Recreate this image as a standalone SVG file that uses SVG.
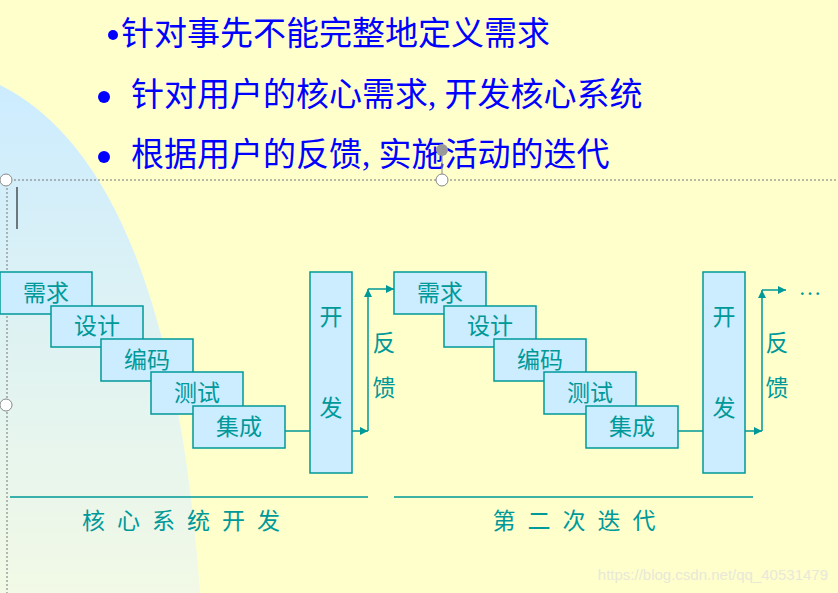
<svg xmlns="http://www.w3.org/2000/svg" width="838" height="593" viewBox="0 0 838 593">
<style>
.t{font-family:"Liberation Serif","Noto Sans CJK SC",serif;fill:#0000FF;font-size:33px}
.b{fill:#CCECFF;stroke:#009999;stroke-width:1.5}
.l{font-family:"Liberation Serif","Noto Sans CJK SC",serif;fill:#009999;font-size:23px;text-anchor:middle}
.c{stroke:#009999;stroke-width:1.5;fill:none}
.h{fill:#fff;stroke:#888;stroke-width:1}
</style>
<defs>
<linearGradient id="g" x1="0" y1="0" x2="0" y2="1"><stop offset="0" stop-color="#CCECFF"/><stop offset="1" stop-color="#F2F9E6"/></linearGradient>
<marker id="a" viewBox="0 0 10 10" refX="10" refY="5" markerWidth="8" markerHeight="8" markerUnits="userSpaceOnUse" orient="auto"><path d="M0,0L10,5L0,10z" fill="#009999"/></marker>
</defs>
<rect width="838" height="593" fill="#FFFFCC"/>
<path d="M0,85 Q170,170 200,593 L0,593z" fill="url(#g)"/>
<g id="title">
<circle cx="113" cy="35" r="5" fill="#0000FF"/>
<text class="t" x="121" y="45">针对事先不能完整地定义需求</text>
<circle cx="104" cy="97" r="6" fill="#0000FF"/>
<text class="t" x="131" y="106">针对用户的核心需求, 开发核心系统</text>
<circle cx="104" cy="157" r="6" fill="#0000FF"/>
<text class="t" x="131" y="166">根据用户的反馈, 实施活动的迭代</text>
</g>
<g id="sel">
<line x1="6" y1="180" x2="838" y2="180" stroke="#777" stroke-dasharray="2,2"/>
<line x1="7" y1="180" x2="7" y2="593" stroke="#777" stroke-dasharray="2,2"/>
<line x1="442" y1="150" x2="442" y2="180" stroke="#888"/>
<circle cx="442" cy="150" r="6" fill="#999"/>
<circle class="h" cx="6" cy="180" r="6"/><circle class="h" cx="6" cy="405" r="6"/><circle class="h" cx="442" cy="180" r="6"/>
<line x1="17" y1="187" x2="17" y2="229" stroke="#000"/>
</g>
<g id="connectors">
<path class="c" d="M285,431H310"/><path class="c" d="M352,431H368" marker-end="url(#a)"/>
<path class="c" d="M368,431V289" marker-end="url(#a)"/><path class="c" d="M368,289H394" marker-end="url(#a)"/>
<path class="c" d="M678,431H703"/><path class="c" d="M745,431H762" marker-end="url(#a)"/>
<path class="c" d="M762,431V290" marker-end="url(#a)"/><path class="c" d="M762,290H786" marker-end="url(#a)"/>
<path class="c" d="M10,497H368M394,497H753"/>
</g>
<g id="g1">
<g id="n1"><rect class="b" x="0" y="272" width="92" height="42"/><text class="l" x="46" y="301">需求</text></g>
<g id="n2"><rect class="b" x="51" y="306" width="92" height="41"/><text class="l" x="97" y="334">设计</text></g>
<g id="n3"><rect class="b" x="101" y="339" width="92" height="42"/><text class="l" x="147" y="368">编码</text></g>
<g id="n4"><rect class="b" x="151" y="372" width="92" height="42"/><text class="l" x="197" y="401">测试</text></g>
<g id="n5"><rect class="b" x="193" y="406" width="92" height="42"/><text class="l" x="239" y="435">集成</text></g>
<g id="n6"><rect class="b" x="310" y="272" width="42" height="201"/><text class="l" x="331" y="325">开</text><text class="l" x="331" y="416">发</text></g>
<text class="l" x="384" y="351">反</text><text class="l" x="384" y="396">馈</text>
<text class="l" x="187" y="529" font-size="25" letter-spacing="12">核心系统开发</text>
</g>
<g id="g2">
<g id="m1"><rect class="b" x="394" y="272" width="92" height="42"/><text class="l" x="440" y="301">需求</text></g>
<g id="m2"><rect class="b" x="444" y="306" width="92" height="41"/><text class="l" x="490" y="334">设计</text></g>
<g id="m3"><rect class="b" x="494" y="339" width="92" height="42"/><text class="l" x="540" y="368">编码</text></g>
<g id="m4"><rect class="b" x="544" y="372" width="92" height="42"/><text class="l" x="590" y="401">测试</text></g>
<g id="m5"><rect class="b" x="586" y="406" width="92" height="42"/><text class="l" x="632" y="435">集成</text></g>
<g id="m6"><rect class="b" x="703" y="272" width="42" height="201"/><text class="l" x="724" y="325">开</text><text class="l" x="724" y="416">发</text></g>
<text class="l" x="777" y="351">反</text><text class="l" x="777" y="396">馈</text>
<text class="l" x="810" y="295">…</text>
<text class="l" x="580" y="529" font-size="25" letter-spacing="12">第二次迭代</text>
</g>
<text x="828" y="580" text-anchor="end" font-family="Liberation Sans,sans-serif" font-size="15" fill="#E8E8D8">https://blog.csdn.net/qq_40531479</text>
</svg>
